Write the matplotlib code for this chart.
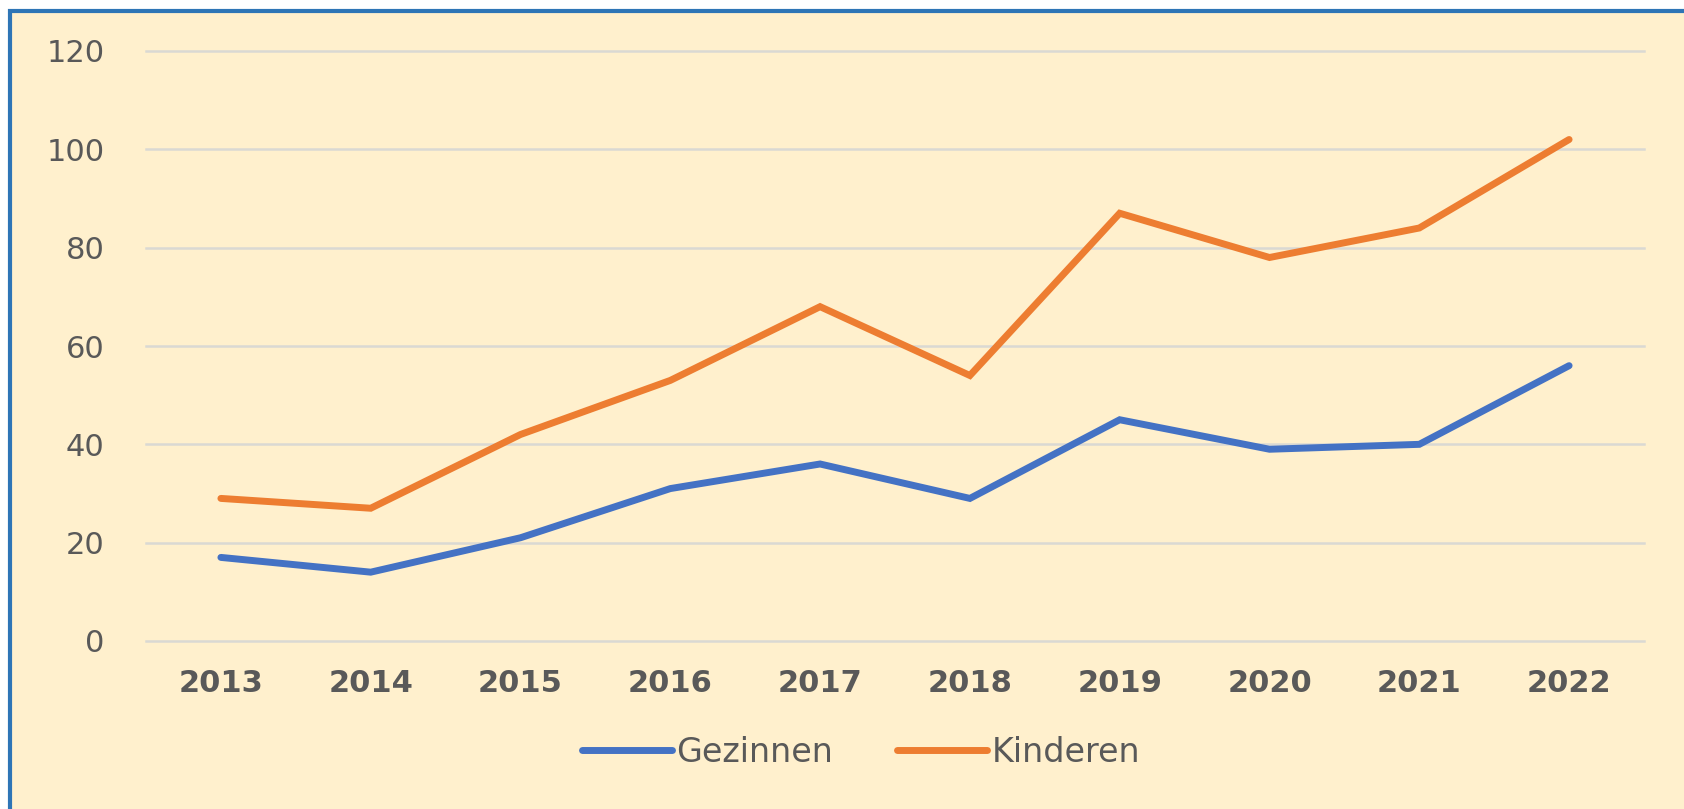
import matplotlib.pyplot as plt
from matplotlib.patches import Rectangle

years = ["2013", "2014", "2015", "2016", "2017", "2018", "2019", "2020", "2021", "2022"]
gezinnen = [17, 14, 21, 31, 36, 29, 45, 39, 40, 56]
kinderen = [29, 27, 42, 53, 68, 54, 87, 78, 84, 102]
y_ticks = [0, 20, 40, 60, 80, 100, 120]

bg = "#FFF0CD"
text_col = "#595959"

plt.rcParams['font.family'] = ['DejaVu Sans']

fig = plt.figure(figsize=(16.84, 8.09), dpi=100)
fig.patch.set_facecolor("white")

# cream panel with blue frame (cut off at right and bottom)
bg_ax = fig.add_axes([0, 0, 1, 1], zorder=-1)
bg_ax.axis("off")
bg_ax.add_patch(Rectangle((10 / 1684, -0.05), 1.1, 1 - 11 / 809 + 0.05,
                          transform=fig.transFigure, facecolor=bg,
                          edgecolor="#2E75B6", linewidth=3, clip_on=False))

ax = fig.add_axes([146 / 1684, 1 - 641 / 809, 1498 / 1684, 590 / 809])
ax.set_facecolor("none")

x = list(range(len(years)))
ax.plot(x, gezinnen, color="#4472C4", lw=5, solid_capstyle="round",
        solid_joinstyle="miter", label="Gezinnen", zorder=3)
ax.plot(x, kinderen, color="#ED7D31", lw=5, solid_capstyle="round",
        solid_joinstyle="miter", label="Kinderen", zorder=3)

ax.set_xlim(-0.5, len(years) - 0.5)
ax.set_ylim(0, 120)
ax.set_yticks(y_ticks)
ax.set_xticks(x)
ax.set_xticklabels(years, fontweight="bold")
ax.grid(axis="y", color="#DAD9D3", lw=1.8)
for gl in ax.get_ygridlines():
    gl.set_clip_on(False)
ax.set_axisbelow(True)
for s in ax.spines.values():
    s.set_visible(False)
ax.tick_params(axis="both", length=0, labelsize=22, labelcolor=text_col)
ax.tick_params(axis="y", pad=30)
ax.tick_params(axis="x", pad=20)

leg = fig.legend(loc="center", bbox_to_anchor=(861 / 1684, 1 - 752 / 809),
                 ncol=2, frameon=False, fontsize=24, handlelength=2.7,
                 handletextpad=0.15, columnspacing=1.9)
for t in leg.get_texts():
    t.set_color(text_col)

fig.savefig("out.png", dpi=100, facecolor=fig.get_facecolor())
